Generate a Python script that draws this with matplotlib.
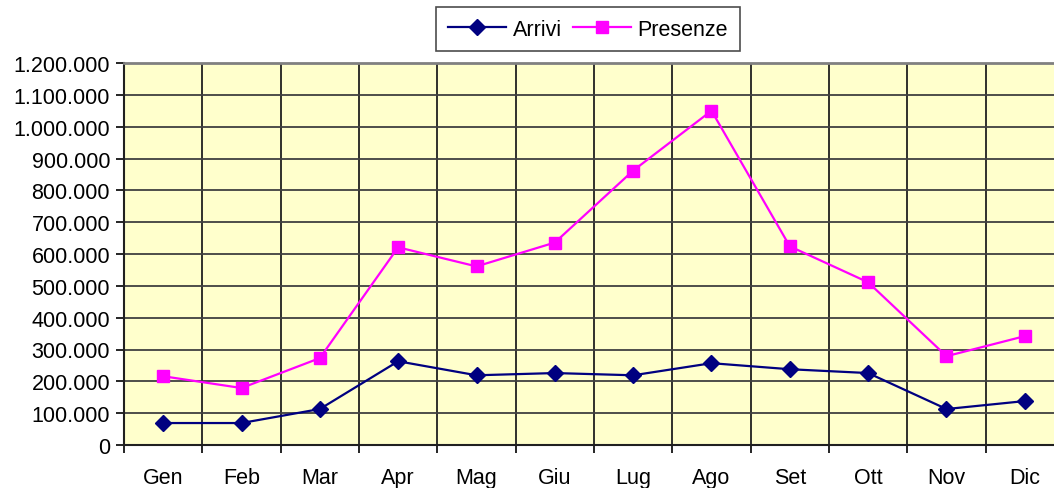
import numpy as np
import matplotlib.pyplot as plt
from matplotlib.ticker import FuncFormatter, MultipleLocator

mesi = ["Gen", "Feb", "Mar", "Apr", "Mag", "Giu", "Lug", "Ago", "Set", "Ott", "Nov", "Dic"]
arrivi = [69000, 69000, 113000, 263000, 219000, 226000, 219000, 257000, 238000, 226000, 113000, 138000]
presenze = [216000, 179000, 273000, 621000, 561000, 636000, 862000, 1050000, 624000, 511000, 279000, 342000]

plt.rcParams['font.family'] = ['Liberation Sans', 'DejaVu Sans']

fig = plt.figure(figsize=(10.54, 4.89), dpi=100)
ax = fig.add_axes([124 / 1054, 1 - 446 / 489, 940 / 1054, 382 / 489])
ax.set_facecolor("#FFFFCC")

x = np.arange(len(mesi))
ax.plot(x, arrivi, color="#000080", marker="D", markersize=8, linewidth=1.6, label="Arrivi", zorder=3)
ax.plot(x, presenze, color="#FF00FF", marker="s", markersize=8, linewidth=1.6, label="Presenze", zorder=3)

ax.set_xlim(-0.5, len(mesi) - 0.5)
ax.set_ylim(0, 1200000)
ax.yaxis.set_major_locator(MultipleLocator(100000))
ax.yaxis.set_major_formatter(FuncFormatter(lambda v, p: f"{int(v):,}".replace(",", ".")))

ax.set_xticks(x)
ax.set_xticklabels(mesi)
ax.set_xticks(np.arange(-0.5, len(mesi), 1.0), minor=True)
ax.tick_params(axis="x", which="major", length=0, pad=16, labelsize=15.5)
ax.tick_params(axis="x", which="minor", length=6, width=1.2, direction="out")
ax.tick_params(axis="y", length=6, width=1.2, labelsize=15.5, pad=4)

ax.grid(axis="y", which="major", color="#404040", linewidth=1.3)
ax.grid(axis="x", which="minor", color="#202020", linewidth=1.3)
ax.set_axisbelow(True)

for s in ["left", "bottom"]:
    ax.spines[s].set_color("#202020")
    ax.spines[s].set_linewidth(1.5)
ax.spines["top"].set_color("#808080")
ax.spines["top"].set_linewidth(2)
ax.spines["right"].set_visible(False)

leg = fig.legend(loc="center", bbox_to_anchor=(588 / 1054, 1 - 30 / 489), ncol=2,
                 fontsize=15.5, frameon=True, fancybox=False, edgecolor="#202020",
                 handlelength=2.7, columnspacing=0.5, handletextpad=0.3, borderpad=0.55)
leg.get_frame().set_linewidth(1.2)

fig.savefig("out.png", dpi=100)
